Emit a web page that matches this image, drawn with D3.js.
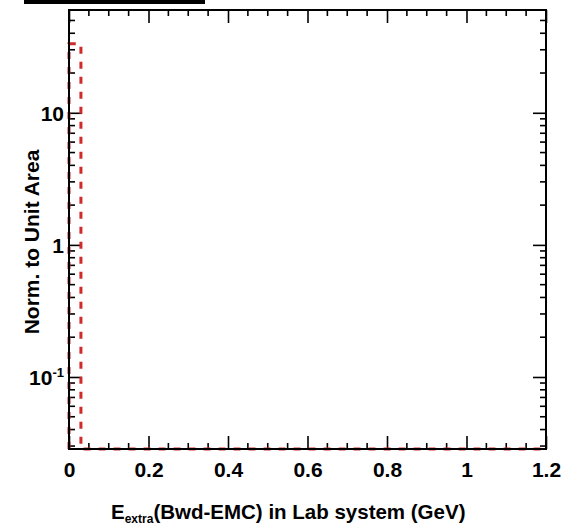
<!DOCTYPE html>
<html><head><meta charset="utf-8">
<script src="https://cdn.jsdelivr.net/npm/d3@7"></script>
<style>body{margin:0;background:#fff;} text{font-family:"Liberation Sans",Arial,sans-serif;font-weight:bold;}</style>
</head><body><svg id="c" width="562" height="525"></svg>
<script>
const binWidth = 0.03;
const binStarts = [0,0.03,0.06,0.09,0.12,0.15,0.18,0.21,0.24,0.27,0.30,0.33,0.36,0.39,0.42,0.45,0.48,0.51,0.54,0.57,0.60,0.63,0.66,0.69,0.72,0.75,0.78,0.81,0.84,0.87,0.90,0.93,0.96,0.99,1.02,1.05,1.08,1.11,1.14,1.17];
const values = [33.3,0,0,0,0,0,0,0,0,0,0,0,0,0,0,0,0,0,0,0,0,0,0,0,0,0,0,0,0,0,0,0,0,0,0,0,0,0,0,0];
const xTicks = [0,0.2,0.4,0.6,0.8,1,1.2];
const xTickLabels = ["0","0.2","0.4","0.6","0.8","1","1.2"];
const yTicks = [0.1,1,10];
const xTitleMain = "E";
const xTitleSub = "extra";
const xTitleRest = "(Bwd-EMC) in Lab system (GeV)";
const yTitle = "Norm. to Unit Area";

const L=69,R=546,T=10,B=449;
const svg=d3.select("#c");
const x=d3.scaleLinear().domain([0,1.2]).range([L,R]);
const y=d3.scaleLog().domain([0.0285,60]).range([B,T]);

// cut-off box at top
svg.append("rect").attr("x",24).attr("y",0).attr("width",181).attr("height",4).attr("fill","#000");

// minor ticks
const xMinor=d3.range(0,1.2001,0.05).filter(v=>Math.abs(v/0.2-Math.round(v/0.2))>1e-6);
const yMinor=[];
[0.01,0.1,1,10].forEach(d=>{for(let k=2;k<=9;k++){const v=d*k;if(v>=y.domain()[0]&&v<=y.domain()[1])yMinor.push(v);}});

const g=svg.append("g").attr("stroke","#000").attr("stroke-width",1.6);
xMinor.forEach(v=>{g.append("line").attr("x1",x(v)).attr("x2",x(v)).attr("y1",B).attr("y2",B-6);
  g.append("line").attr("x1",x(v)).attr("x2",x(v)).attr("y1",T).attr("y2",T+6);});
yMinor.forEach(v=>{g.append("line").attr("x1",L).attr("x2",L+6).attr("y1",y(v)).attr("y2",y(v));
  g.append("line").attr("x1",R).attr("x2",R-6).attr("y1",y(v)).attr("y2",y(v));});

// major axes
const fmtX=(d,i)=>xTickLabels[i];
const xb=svg.append("g").attr("transform",`translate(0,${B})`).call(d3.axisBottom(x).tickValues(xTicks).tickFormat(fmtX).tickSize(-13).tickPadding(13));
const xt=svg.append("g").attr("transform",`translate(0,${T})`).call(d3.axisTop(x).tickValues(xTicks).tickFormat("").tickSize(-13));
const yl=svg.append("g").attr("transform",`translate(${L},0)`).call(d3.axisLeft(y).tickValues(yTicks).tickFormat("").tickSize(-13).tickPadding(6));
const yr=svg.append("g").attr("transform",`translate(${R},0)`).call(d3.axisRight(y).tickValues(yTicks).tickFormat("").tickSize(-13));
[xb,xt,yl,yr].forEach(a=>{a.select(".domain").remove();a.selectAll(".tick line").attr("stroke","#000").attr("stroke-width",1.6);});
xb.selectAll(".tick text").attr("font-size",21).attr("fill","#000").attr("font-family","Liberation Sans, Arial, sans-serif").attr("font-weight","bold");

// y labels with superscripts
const ylab=[{v:10,b:"10",e:""},{v:1,b:"1",e:""},{v:0.1,b:"10",e:"-1"}];
ylab.forEach(o=>{const t=svg.append("text").attr("x",L-5).attr("y",y(o.v)+8).attr("text-anchor","end").attr("font-size",21);
  t.append("tspan").text(o.b);
  if(o.e){t.append("tspan").attr("dy",-8).attr("font-size",13).text(o.e);}
});

// histogram (dashed red)
const pts=[[x(0),B]];
binStarts.forEach((s,i)=>{const v=values[i];const yy=v>0?y(v):B;pts.push([x(s),yy]);pts.push([x(s+binWidth),yy]);});
pts.push([x(1.2),B]);
svg.append("path").attr("d",d3.line()(pts)).attr("fill","none").attr("stroke","#cf2b2b").attr("stroke-width",3).attr("stroke-dasharray","7,8");

// frame
svg.append("rect").attr("x",L).attr("y",T).attr("width",R-L).attr("height",B-T).attr("fill","none").attr("stroke","#000").attr("stroke-width",2);

// titles
const xtTitle=svg.append("text").attr("x",111).attr("y",519).attr("font-size",20.5);
xtTitle.append("tspan").text(xTitleMain);
xtTitle.append("tspan").attr("dy",4).attr("font-size",12).text(xTitleSub);
xtTitle.append("tspan").attr("dy",-4).text(xTitleRest);
svg.append("text").attr("transform","translate(39,242) rotate(-90)").attr("text-anchor","middle").attr("font-size",21).text(yTitle);
</script></body></html>
